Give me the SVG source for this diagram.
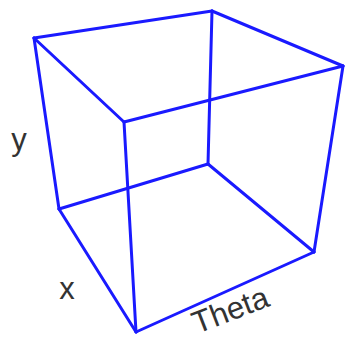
<svg xmlns="http://www.w3.org/2000/svg" width="345" height="337" viewBox="0 0 345 337">
<style>
.e{stroke:#1a1aff;stroke-width:3;fill:none;stroke-linecap:round;stroke-linejoin:round}
.t{font-family:"Liberation Sans",Arial,sans-serif;font-size:31px;fill:#333}
</style>
<rect width="345" height="337" fill="#fff"/>
<g id="connectors">
<line class="e" x1="34" y1="38" x2="212" y2="11"/>
<line class="e" x1="212" y1="11" x2="343" y2="66"/>
<line class="e" x1="343" y1="66" x2="124" y2="122"/>
<line class="e" x1="124" y1="122" x2="34" y2="38"/>
<line class="e" x1="34" y1="38" x2="59" y2="209"/>
<line class="e" x1="212" y1="11" x2="208" y2="164"/>
<line class="e" x1="343" y1="66" x2="314" y2="252"/>
<line class="e" x1="124" y1="122" x2="136" y2="332"/>
<line class="e" x1="59" y1="209" x2="208" y2="164"/>
<line class="e" x1="208" y1="164" x2="314" y2="252"/>
<line class="e" x1="314" y1="252" x2="136" y2="332"/>
<line class="e" x1="136" y1="332" x2="59" y2="209"/>
</g>
<g id="label-y"><text class="t" x="19" y="150" text-anchor="middle">y</text></g>
<g id="label-x"><text class="t" x="67" y="299" text-anchor="middle">x</text></g>
<g id="label-theta"><text class="t" x="0" y="0" transform="translate(197,334) rotate(-21)">Theta</text></g>
</svg>
